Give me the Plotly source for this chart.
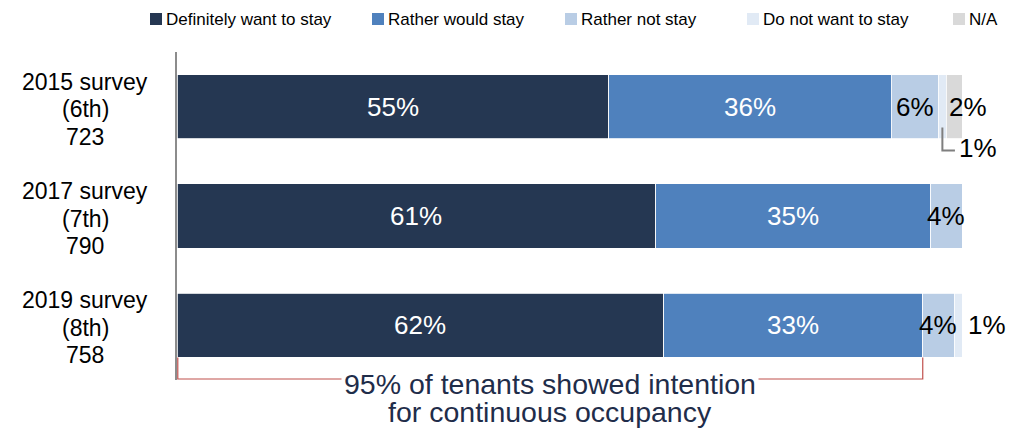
import plotly.graph_objects as go

# Survey rows (top to bottom)
surveys = ["2015 survey", "2017 survey", "2019 survey"]
editions = ["(6th)", "(7th)", "(8th)"]
respondents = [723, 790, 758]

# Answer categories and their shares (%)
series_names = ["Definitely want to stay", "Rather would stay", "Rather not stay",
                "Do not want to stay", "N/A"]
definitely_stay = [55, 61, 62]
rather_stay = [36, 35, 33]
rather_not_stay = [6, 4, 4]
not_stay = [1, 0, 1]
not_answered = [2, 0, 0]

series_values = [definitely_stay, rather_stay, rather_not_stay, not_stay, not_answered]
series_colors = ["#253752", "#4f81bd", "#b9cde5", "#e1eaf5", "#d9d9d9"]

FONT = "Liberation Sans, Arial, sans-serif"
BAR_WIDTH = 0.587

# Plot-area geometry in pixels
W, H = 1017, 428
ML, MR, MT, MB = 177, 55, 52, 48
PW, PH = W - ML - MR, H - MT - MB
N_ROWS = len(surveys)
X_MAX = 100


def px_x(px):
    return (px - ML) / PW


def px_y(py):
    return (H - MB - py) / PH


rows = list(range(N_ROWS))

fig = go.Figure()
for name, vals, col in zip(series_names, series_values, series_colors):
    fig.add_trace(go.Bar(
        y=rows, x=vals, name=name, orientation="h", width=BAR_WIDTH,
        marker=dict(color=col, line=dict(color="white", width=0.8)),
        showlegend=False, hoverinfo="x+name",
    ))

annotations = []
shapes = []

# Segment labels
for r in rows:
    start = 0
    for k, vals in enumerate(series_values):
        v = vals[r]
        mid = start + v / 2
        txt = f"{v}%"
        base = dict(y=r, xref="x", yref="y", showarrow=False,
                    font=dict(family=FONT, size=26,
                              color="white" if k < 2 else "black"))
        if v > 0:
            if k < 3:
                annotations.append(dict(base, x=mid, text=txt, xanchor="center"))
            elif k == 4:
                # N/A label sits from the segment start outward
                annotations.append(dict(base, x=start, text=txt, xanchor="left", xshift=1))
            elif k == 3:
                if start + v >= X_MAX:
                    # last segment: label to the right of the bar
                    annotations.append(dict(base, x=start + v, text=txt,
                                            xanchor="left", xshift=4))
                else:
                    # small inner segment: label below with a leader line
                    shapes.append(dict(
                        type="path", xref="x", yref="y",
                        path=f"M {mid},{r + 0.19} L {mid},{r + 0.40} L 99.1,{r + 0.40}",
                        line=dict(color="#7f7f7f", width=2)))
                    annotations.append(dict(base, x=99.3, y=r + 0.38, text=txt,
                                            xanchor="left"))
        start += v

# Row labels
for r in rows:
    for line, shift in zip([surveys[r], editions[r], str(respondents[r])], [25, -2.5, -30]):
        annotations.append(dict(
            x=0, xref="paper", xshift=-92, y=r, yref="y", yshift=shift,
            text=line, showarrow=False, xanchor="center", yanchor="middle",
            font=dict(family=FONT, size=23, color="black")))

# Bracket under the two "stay" segments of the latest survey (paper coords so it is not clipped)
last = rows[-1]
stay_total = definitely_stay[last] + rather_stay[last]
bar_bottom = (N_ROWS - 0.5 - (last + BAR_WIDTH / 2)) / N_ROWS
bracket_y = px_y(379)
bx1 = stay_total / X_MAX
shapes.append(dict(
    type="path", xref="paper", yref="paper",
    path=(f"M 0.001,{bar_bottom} L 0.001,{bracket_y} L {bx1},{bracket_y} "
          f"L {bx1},{bar_bottom}"),
    line=dict(color="#c0504d", width=1.2)))
annotations.append(dict(
    x=stay_total / 2, xref="x", y=0, yref="paper", yshift=-4,
    text=f"{stay_total}% of tenants showed intention", showarrow=False,
    xanchor="center", yanchor="middle", bgcolor="white", borderpad=2,
    font=dict(family=FONT, size=28.5, color="#1f2d4a")))
annotations.append(dict(
    x=stay_total / 2, xref="x", y=0, yref="paper", yshift=-32,
    text="for continuous occupancy", showarrow=False,
    xanchor="center", yanchor="middle",
    font=dict(family=FONT, size=28.5, color="#1f2d4a")))

# Legend row
legend_left = [150, 372, 565, 747, 953]
for name, col, lx in zip(series_names, series_colors, legend_left):
    shapes.append(dict(type="rect", xref="paper", yref="paper",
                       x0=px_x(lx), x1=px_x(lx + 12), y0=px_y(25), y1=px_y(13),
                       fillcolor=col, line=dict(width=0)))
    annotations.append(dict(
        x=px_x(lx + 14), xref="paper", y=px_y(19), yref="paper",
        text=name, showarrow=False, xanchor="left", yanchor="middle",
        font=dict(family=FONT, size=17, color="black")))

fig.update_layout(
    width=W, height=H,
    barmode="stack",
    margin=dict(l=ML, r=MR, t=MT, b=MB),
    paper_bgcolor="white", plot_bgcolor="white",
    xaxis=dict(range=[0, X_MAX], visible=False, fixedrange=True),
    yaxis=dict(range=[N_ROWS - 0.5, -0.5], showticklabels=False, showgrid=False,
               zeroline=False, showline=True, linecolor="#8c8c8c", linewidth=2,
               ticks="", fixedrange=True),
    annotations=annotations,
    shapes=shapes,
    showlegend=False,
)

fig.write_html("out.html")
